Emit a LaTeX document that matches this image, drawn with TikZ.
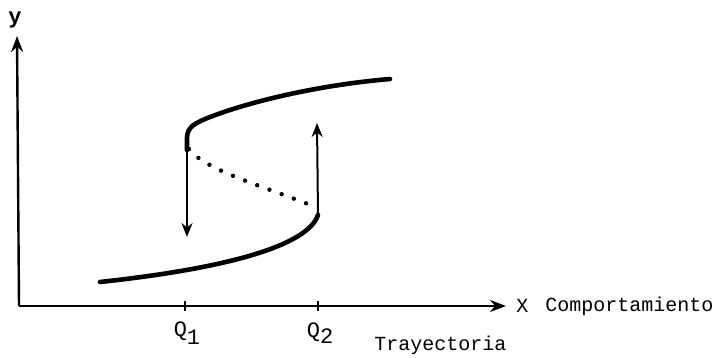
\documentclass[tikz,border=0pt]{standalone}
\usepackage{fontspec}
\setmonofont{Liberation Mono}
\usetikzlibrary{arrows.meta}
\begin{document}
\begin{tikzpicture}[x=0.5pt, y=-0.5pt, font=\ttfamily\fontsize{10}{12}\selectfont]
        \useasboundingbox (0,0) rectangle (719,358);
        % ejes
        \coordinate (O) at (19,306);
        \coordinate (ytip) at (17,36);
        \coordinate (xtip) at (506,306);
        \draw[-{Stealth[length=8pt, width=6pt]}, line width=1.2pt] (O) -- (ytip);
        \draw[-{Stealth[length=8pt, width=6pt]}, line width=1.2pt] (O) -- (xtip);
        \node[font=\ttfamily\bfseries\fontsize{11}{13}\selectfont] (ylab) at (15,20) {y};
        \node[anchor=west, inner sep=0pt] (xlab) at (516,306) {X};
        \node[anchor=west, inner sep=0pt] (comp) at (545,306) {Comportamiento};
        \node[anchor=west, inner sep=0pt] (tray) at (374,345) {Trayectoria};

        % marcas Q1, Q2
        \coordinate (q1a) at (185,301);
        \coordinate (q1b) at (185,311);
        \coordinate (q2a) at (318,301);
        \coordinate (q2b) at (318,311);
        \draw[line width=0.9pt] (q1a) -- (q1b);
        \draw[line width=0.9pt] (q2a) -- (q2b);
        \node[font=\ttfamily\fontsize{11}{13}\selectfont] (lq1) at (187,333) {Q\raisebox{-0.7ex}{1}};
        \node[font=\ttfamily\fontsize{11}{13}\selectfont] (lq2) at (320,333) {Q\raisebox{-0.5ex}{2}};

        % ramas de la curva
        \coordinate (a) at (187,150);
        \coordinate (b) at (187,138);
        \coordinate (c) at (210,117);
        \coordinate (d) at (390,79);
        \coordinate (e) at (318,215);
        \coordinate (f) at (100,282);
        \draw[line width=2.3pt, line cap=round] (a) -- (b) .. controls (187,127) and (195,123) .. (c)
            .. controls (260,98) and (330,84) .. (d);
        \draw[line width=2.3pt, line cap=round] (e) .. controls (308,245) and (230,268) .. (f);
        \draw[line width=2.2pt, line cap=round, dash pattern=on 0pt off 6.5pt]
            (189,149) .. controls (205,170) and (260,185) .. (313,206);

        % saltos
        \coordinate (down) at (187,237);
        \coordinate (up) at (317,123);
        \draw[-{Stealth[length=7pt, width=5.5pt]}, line width=1pt] (b) -- (down);
        \draw[-{Stealth[length=7pt, width=5.5pt]}, line width=1pt] (e) -- (up);
    \end{tikzpicture}
\end{document}
